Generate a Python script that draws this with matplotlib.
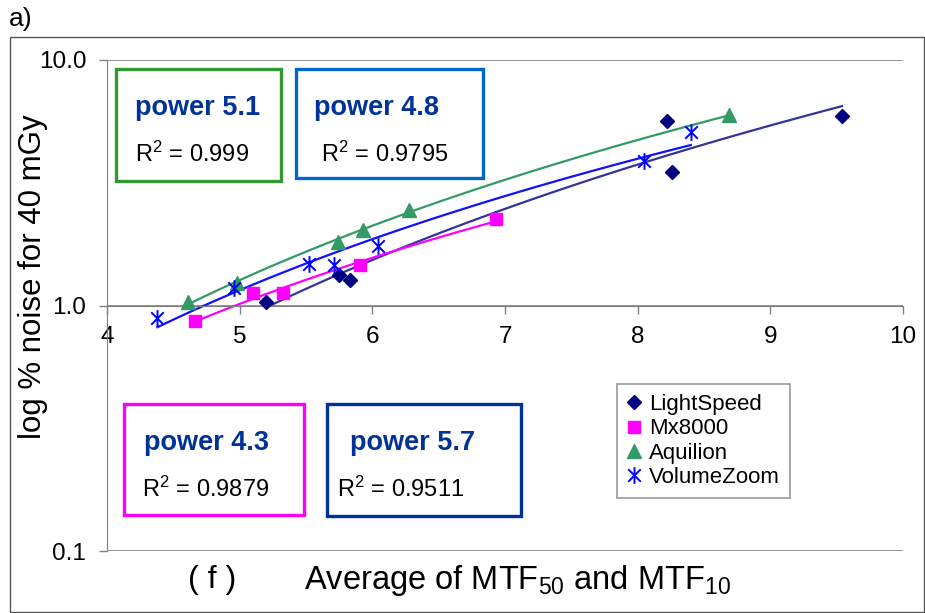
import numpy as np
import matplotlib
matplotlib.use("Agg")
import matplotlib.pyplot as plt
from matplotlib.path import Path
from matplotlib.patches import Rectangle

plt.rcParams['font.family'] = ['Liberation Sans', 'DejaVu Sans']
plt.rcParams['mathtext.fontset'] = 'custom'
plt.rcParams['mathtext.rm'] = 'Liberation Sans'
plt.rcParams['mathtext.it'] = 'Liberation Sans:italic'

# data
ls_x = [5.20, 5.75, 5.83, 8.22, 8.26, 9.54]
ls_y = [1.03, 1.33, 1.27, 5.63, 3.51, 5.89]
mx_x = [4.66, 5.10, 5.33, 5.91, 6.93]
mx_y = [0.866, 1.12, 1.12, 1.46, 2.26]
aq_x = [4.61, 4.98, 5.74, 5.93, 6.28, 8.69]
aq_y = [1.035, 1.24, 1.81, 2.03, 2.45, 5.98]
vz_x = [4.38, 4.96, 5.52, 5.71, 6.04, 8.05, 8.40]
vz_y = [0.89, 1.18, 1.47, 1.46, 1.75, 3.88, 5.07]

box_labels = ["power 5.1", "power 4.8", "power 4.3", "power 5.7"]
box_r2 = ["0.999", "0.9795", "0.9879", "0.9511"]

W, H = 925, 613
fig = plt.figure(figsize=(W / 100, H / 100), dpi=100)

def fx(x):
    return x / W

def fy(y):
    return 1 - y / H

ax = fig.add_axes([fx(107), fy(551), (903 - 107) / W, (551 - 60) / H])
ax.set_yscale('log')
ax.set_xlim(4, 10)
ax.set_ylim(0.1, 10)

# excel style power trendlines (least squares in log-log)
def trend(x, y, color):
    b, a = np.polyfit(np.log(x), np.log(y), 1)
    xs = np.linspace(min(x), max(x), 100)
    ax.plot(xs, np.exp(a) * xs ** b, color=color, lw=1.6, zorder=2)

trend(ls_x, ls_y, '#333399')
trend(mx_x, mx_y, '#FF00FF')
trend(aq_x, aq_y, '#339966')
trend(vz_x, vz_y, '#1010FF')

star = Path([(0, -1), (0, 1), (-0.75, -0.75), (0.75, 0.75), (-0.75, 0.75), (0.75, -0.75)],
            [Path.MOVETO, Path.LINETO, Path.MOVETO, Path.LINETO, Path.MOVETO, Path.LINETO])

ax.plot(ls_x, ls_y, 'D', color='#000080', ms=7, ls='none', label='LightSpeed', zorder=3)
ax.plot(mx_x, mx_y, 's', color='#FF00FF', ms=9, ls='none', label='Mx8000', zorder=3)
ax.plot(aq_x, aq_y, '^', color='#339966', ms=10, ls='none', label='Aquilion', zorder=3)
ax.plot(vz_x, vz_y, marker=star, color='#0000FF', mec='#0000FF', mew=1.4, ms=12,
        ls='none', label='VolumeZoom', zorder=3)

for s in ['top', 'right']:
    ax.spines[s].set_visible(False)
ax.spines['bottom'].set_position(('data', 1))
ax.spines['bottom'].set_color('#808080')
ax.spines['left'].set_color('#808080')
ax.grid(axis='y', which='major', color='#808080', lw=1.2)
ax.set_axisbelow(True)

ax.set_xticks([4, 5, 6, 7, 8, 9, 10])
ax.set_yticks([0.1, 1, 10])
ax.set_yticklabels(['0.1', '1.0', '10.0'])
ax.yaxis.set_minor_locator(matplotlib.ticker.NullLocator())
ax.tick_params(axis='both', labelsize=17.5, color='#808080', length=6, width=1)
ax.tick_params(axis='x', direction='out', pad=9)
ax.tick_params(axis='y', direction='out', pad=9)

leg = ax.legend(loc='upper left', bbox_to_anchor=((617 - 107) / 796, (551 - 384) / 491),
                fontsize=16, frameon=True, fancybox=False, edgecolor='#808080',
                handlelength=0.6, handletextpad=0.4, labelspacing=0.15,
                borderpad=0.45, borderaxespad=0)
leg.get_frame().set_linewidth(1.2)

# annotation boxes: edges, colour, centre of "power" text, centre of R2 text
boxes = [(116, 69, 281, 181, '#339933', 198, 192),
         (296, 69, 483, 178, '#0066CC', 377, 385),
         (124, 404, 304, 515, '#FF00FF', 207, 206),
         (327, 404, 521, 516, '#003399', 413, 401)]
for (x0, y0, x1, y1, c, pcx, rcx), lab, r2 in zip(boxes, box_labels, box_r2):
    fig.patches.append(Rectangle((fx(x0), fy(y1)), (x1 - x0) / W, (y1 - y0) / H,
                                 transform=fig.transFigure, fill=False,
                                 edgecolor=c, lw=2.4))
    fig.text(fx(pcx), fy(y0 + 39), lab, color='#003399', fontsize=19.5,
             fontweight='bold', ha='center', va='center')
    fig.text(fx(rcx), fy(y0 + 85), 'R$^2$ = ' + r2, color='black', fontsize=17,
             ha='center', va='center')

fig.text(fx(33), fy(277), 'log % noise for 40 mGy', fontsize=22.5, rotation=90,
         ha='center', va='center')
fig.text(fx(212), fy(580), '( f )', fontsize=23, ha='center', va='center')
fig.text(fx(517), fy(580), 'Average of MTF$_{50}$ and MTF$_{10}$', fontsize=23.5,
         ha='center', va='center')
fig.text(fx(9), fy(19), 'a)', fontsize=19, ha='left', va='center')

fig.patches.append(Rectangle((fx(10), fy(612)), (924 - 10) / W, (612 - 37) / H,
                             transform=fig.transFigure, fill=False,
                             edgecolor='#555555', lw=1))

fig.savefig('out.png', dpi=100)
